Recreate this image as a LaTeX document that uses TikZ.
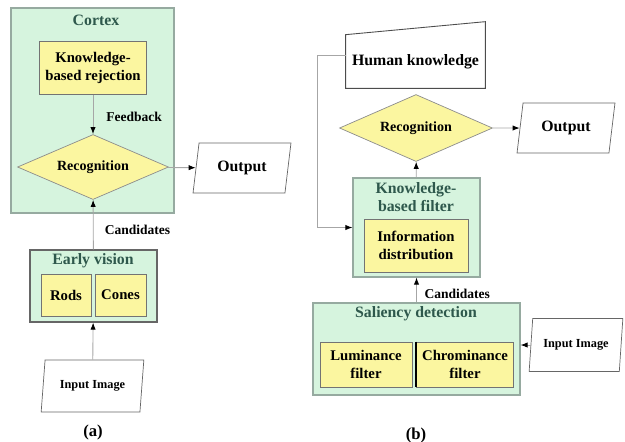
\documentclass[tikz,border=0pt]{standalone}
\usepackage{fontspec}
\setmainfont{Liberation Serif}
\usetikzlibrary{shapes.geometric,arrows.meta,calc}
\definecolor{mint}{RGB}{214,244,222}
\definecolor{mintline}{RGB}{150,170,160}
\definecolor{lemon}{RGB}{251,246,160}
\definecolor{teal}{RGB}{46,88,76}
\newcommand{\px}{0.02cm}
\begin{document}
\begin{tikzpicture}[x=0.02cm,y=-0.02cm,
  greenbox/.style={draw=mintline, fill=mint, line width=0.6pt},
  yellowbox/.style={draw=black!55, fill=lemon, line width=0.5pt, align=center, font=\fontsize{8.4}{10}\selectfont\bfseries},
  decide/.style={diamond, draw=black!45, fill=lemon, inner sep=0pt, shape aspect=2.3, font=\fontsize{8}{10}\selectfont\bfseries},
  io/.style={trapezium, trapezium left angle=76, trapezium right angle=104, trapezium stretches=true, draw=black!60, line width=0.4pt, fill=white, inner sep=0pt},
  title/.style={text=teal, align=center, font=\fontsize{9}{10.5}\selectfont\bfseries},
  lab/.style={font=\fontsize{7.7}{9}\selectfont\bfseries},
  flow/.style={draw=black!35, line width=0.5pt, -{Latex[black,length=4pt,width=3pt]}}]
\useasboundingbox (0,0) rectangle (625,441);
% (a)
\node[greenbox, minimum width=163*\px, minimum height=205*\px] (cortex) at (92.5,110.5) {};
\node[title] (cortexT) at (96,20) {Cortex};
\node[yellowbox, minimum width=104*\px, minimum height=53*\px] (rej) at (93,68) {Knowledge-\\based rejection};
\node[decide, minimum width=151*\px, minimum height=65*\px] (rec1) at (93,167) {Recognition};
\node[io, minimum width=98*\px, minimum height=50*\px, font=\fontsize{9}{10}\selectfont\bfseries] (out1) at (242,168) {Output};
\node[greenbox, draw=black!60, minimum width=127*\px, minimum height=72*\px] (ev) at (93.5,286) {};
\node[title] (evT) at (93,261) {Early vision};
\node[yellowbox, minimum width=50*\px, minimum height=42*\px] (rods) at (66,295) {Rods};
\node[yellowbox, minimum width=51*\px, minimum height=42*\px] (cones) at (120.5,295) {Cones};
\node[io, minimum width=103*\px, minimum height=52*\px, font=\fontsize{7}{8}\selectfont\bfseries] (in1) at (92.5,386) {Input Image};
\node[font=\fontsize{9.5}{11}\selectfont\bfseries] (capA) at (93,432) {(a)};
\draw[flow] (rej) -- node[lab, right=4pt, pos=0.55] {Feedback} (rec1);
\draw[flow] (rec1) -- (out1);
\draw[flow] (ev) -- node[lab, right=3pt, pos=0.4] {Candidates} (rec1);
\draw[flow] (in1) -- (ev);
% (b)
\node[minimum width=139*\px, minimum height=53*\px, font=\fontsize{9}{10}\selectfont\bfseries] (hk) at (415.5,61.5) {Human knowledge};
\draw[draw=black!70, line width=0.5pt] (hk.south west) -- (hk.south east) -- ([yshift=0.26cm]hk.north east) -- (hk.north west) -- cycle;
\node[decide, minimum width=153*\px, minimum height=67*\px] (rec2) at (416,128) {Recognition};
\node[io, minimum width=98*\px, minimum height=50*\px, font=\fontsize{9}{10}\selectfont\bfseries] (out2) at (566,128) {Output};
\node[greenbox, minimum width=127*\px, minimum height=99*\px] (kbf) at (416.5,227.5) {};
\node[title] (kbfT) at (416,197) {Knowledge-\\based filter};
\node[yellowbox, minimum width=104*\px, minimum height=53*\px] (info) at (416,245.5) {Information\\distribution};
\node[greenbox, minimum width=207*\px, minimum height=92*\px] (sal) at (416.5,349) {};
\node[title] (salT) at (416,314) {Saliency detection};
\node[yellowbox, minimum width=92*\px, minimum height=45*\px] (lum) at (366,364.5) {Luminance\\filter};
\node[yellowbox, minimum width=92*\px, minimum height=45*\px] (chr) at (465,364.5) {Chrominance\\filter};
\draw[black, line width=1pt] (chr.north west) -- (chr.south west);
\node[io, minimum width=94*\px, minimum height=53*\px, font=\fontsize{7}{8}\selectfont\bfseries] (in2) at (576,345) {Input Image};
\node[font=\fontsize{9.5}{11}\selectfont\bfseries] (capB) at (416,435) {(b)};
\draw[flow] ([yshift=0.12cm]hk.west) -- ++(-28,0) |- (kbf);
\draw[flow] (kbf) -- (rec2);
\draw[flow] (rec2) -- (out2);
\draw[flow] (sal) -- node[lab, right=1pt, pos=0.35] {Candidates} (kbf);
\draw[flow] (in2.west) -- (in2.west -| sal.east);
\end{tikzpicture}
\end{document}
